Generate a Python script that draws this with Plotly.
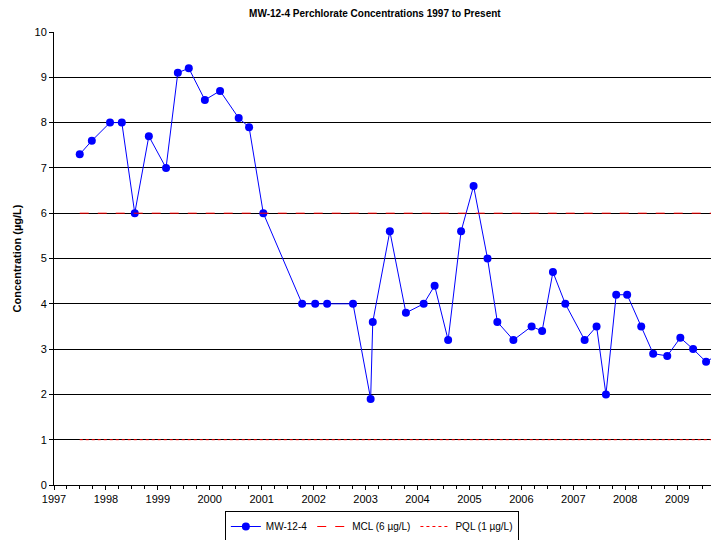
import plotly.graph_objects as go

sample_dates = [
    "1997-07-01", "1997-09-24", "1998-01-30", "1998-04-23", "1998-07-23",
    "1998-10-30", "1999-02-28", "1999-05-22", "1999-08-07", "1999-11-28",
    "2000-03-14", "2000-07-23", "2000-10-04", "2001-01-12", "2001-10-12",
    "2002-01-12", "2002-04-06", "2002-10-05", "2003-02-06", "2003-02-21",
    "2003-06-21", "2003-10-12", "2004-02-14", "2004-05-01", "2004-08-04",
    "2004-11-03", "2005-01-30", "2005-05-08", "2005-07-16", "2005-11-06",
    "2006-03-14", "2006-05-27", "2006-08-11", "2006-11-06", "2007-03-22",
    "2007-06-14", "2007-08-19", "2007-10-30", "2008-01-15", "2008-04-23",
    "2008-07-16", "2008-10-23", "2009-01-23", "2009-04-23", "2009-07-23",
    "2009-11-24",
]
perchlorate = [
    7.3, 7.6, 8.0, 8.0, 6.0,
    7.7, 7.0, 9.1, 9.2, 8.5,
    8.7, 8.1, 7.9, 6.0, 4.0,
    4.0, 4.0, 4.0, 1.9, 3.6,
    5.6, 3.8, 4.0, 4.4, 3.2,
    5.6, 6.6, 5.0, 3.6, 3.2,
    3.5, 3.4, 4.7, 4.0, 3.2,
    3.5, 2.0, 4.2, 4.2, 3.5,
    2.9, 2.85, 3.25, 3.0, 2.72,
    2.95,
]

limit_dates = ["1997-07-01", "2009-11-24"]
mcl = [6, 6]
pql = [1, 1]

years = list(range(1997, 2010))

fig = go.Figure()

fig.add_trace(go.Scatter(
    x=sample_dates,
    y=perchlorate,
    mode='lines+markers',
    name='MW-12-4',
    line=dict(color='#0000FF', width=1),
    marker=dict(color='#0000FF', size=8)
))

fig.add_trace(go.Scatter(
    x=limit_dates,
    y=mcl,
    mode='lines',
    name='MCL (6 µg/L)',
    line=dict(color='#FF0000', width=1, dash='dash')
))

fig.add_trace(go.Scatter(
    x=limit_dates,
    y=pql,
    mode='lines',
    name='PQL (1 µg/L)',
    line=dict(color='#FF0000', width=1, dash='dot')
))

# page body adds an 8px offset, so the figure is sized to fill the rest
fig.update_layout(
    width=711,
    height=534,
    margin=dict(l=46, r=0, t=24, b=56),
    paper_bgcolor='white',
    plot_bgcolor='white',
    font=dict(family='Liberation Sans, Arial, sans-serif', size=11, color='black'),
    title=dict(
        text='<b>MW-12-4 Perchlorate Concentrations 1997 to Present</b>',
        x=0.516, xanchor='center', y=0.989, yanchor='middle',
        font=dict(size=10)
    ),
    showlegend=True,
    legend=dict(
        orientation='h',
        x=0.478, xanchor='center',
        y=-0.058, yanchor='top',
        bordercolor='black', borderwidth=1,
        font=dict(size=10),
        itemwidth=30,
        tracegroupgap=0
    ),
    xaxis=dict(
        range=["1997-01-01", "2009-10-22"],
        tickvals=[f"{y}-01-01" for y in years],
        ticktext=[str(y) for y in years],
        ticks='outside', ticklen=4, tickcolor='black',
        minor=dict(dtick='M3', ticks='outside', ticklen=3, tickcolor='black', showgrid=False),
        showgrid=False,
        showline=True, linecolor='black', linewidth=1,
        zeroline=False
    ),
    yaxis=dict(
        range=[0, 10],
        dtick=1,
        title=dict(text='<b>Concentration (µg/L)</b>', font=dict(size=11), standoff=10),
        ticks='outside', ticklen=4, tickcolor='black',
        showgrid=True, gridcolor='black', gridwidth=1,
        showline=True, linecolor='black', linewidth=1,
        zeroline=False
    )
)

fig.write_html("out.html")
